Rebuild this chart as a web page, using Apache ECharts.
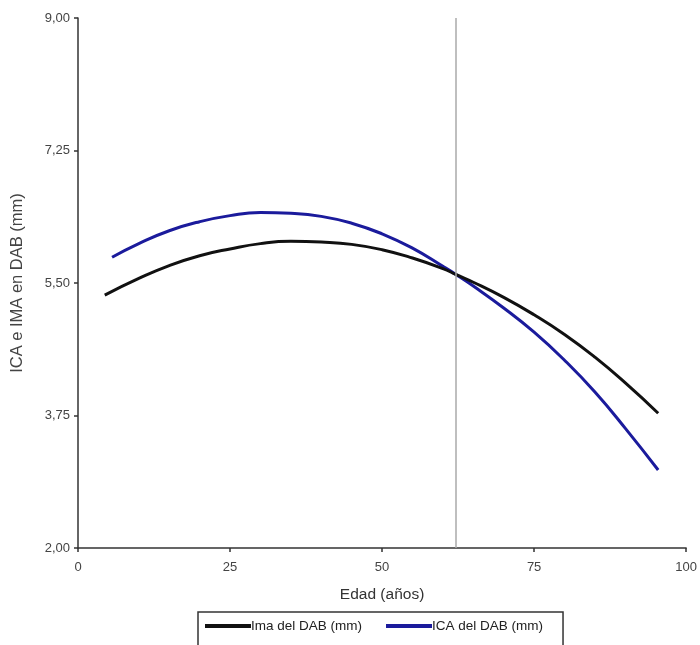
<!DOCTYPE html>
<html>
<head>
<meta charset="utf-8">
<script src="https://cdn.jsdelivr.net/npm/echarts@6/dist/echarts.min.js"></script>
<style>
  html, body { margin: 0; padding: 0; background: #fff; }
  #chart { width: 700px; height: 645px; }
</style>
</head>
<body>
<div id="chart"></div>
<script>
// edad (años)
const imaX = [4.4, 10, 15, 20, 25, 30, 35, 40, 45, 50, 55, 60, 62.2, 65, 70, 75, 80, 85, 90, 95.4];
const imaY = [5.34, 5.56, 5.73, 5.86, 5.95, 6.02, 6.05, 6.04, 6.01, 5.94, 5.83, 5.69, 5.61, 5.51, 5.31, 5.08, 4.82, 4.52, 4.18, 3.78];
const icaX = [5.6, 10, 15, 20, 25, 30, 35, 40, 45, 50, 55, 60, 62.2, 65, 70, 75, 80, 85, 90, 95.4];
const icaY = [5.84, 6.02, 6.19, 6.31, 6.39, 6.43, 6.42, 6.38, 6.29, 6.15, 5.96, 5.72, 5.61, 5.46, 5.17, 4.85, 4.48, 4.06, 3.58, 3.03];
const refLineX = 62.1;
const seriesNames = ['Ima del DAB (mm)', 'ICA del DAB (mm)'];

const pairs = (xs, ys) => xs.map((x, i) => [x, ys[i]]);

const myChart = echarts.init(document.getElementById('chart'));
myChart.setOption({
  animation: false,
  textStyle: { fontFamily: 'Liberation Sans, Arial, sans-serif' },
  grid: { left: 78, right: 10, top: 18, bottom: 97 },
  xAxis: {
    type: 'value',
    min: 0,
    max: 100,
    interval: 25,
    name: 'Edad (años)',
    nameLocation: 'middle',
    nameGap: 39,
    nameTextStyle: { fontSize: 15.5, color: '#333' },
    axisLine: { show: true, lineStyle: { color: '#333', width: 1.5 } },
    axisTick: { show: true, length: 4, lineStyle: { color: '#333', width: 1.5 } },
    axisLabel: { fontSize: 13, color: '#444', margin: 13 },
    splitLine: { show: false }
  },
  yAxis: {
    type: 'value',
    min: 2,
    max: 9,
    interval: 1.75,
    name: 'ICA e IMA en DAB (mm)',
    nameLocation: 'middle',
    nameGap: 52,
    nameTextStyle: { fontSize: 16.5, color: '#444' },
    axisLine: { show: true, lineStyle: { color: '#333', width: 1.5 } },
    axisTick: { show: true, length: 4, lineStyle: { color: '#333', width: 1.5 } },
    axisLabel: {
      fontSize: 13,
      color: '#444',
      margin: 8,
      formatter: v => v.toFixed(2).replace('.', ',')
    },
    splitLine: { show: false }
  },
  legend: {
    bottom: -12,
    left: 198,
    padding: [7, 20, 24, 7],
    borderColor: '#333',
    borderWidth: 1.5,
    itemGap: 24,
    itemWidth: 46,
    itemHeight: 4,
    icon: 'rect',
    textStyle: { fontSize: 13.5, color: '#222', padding: [0, 0, 0, -5] },
    data: seriesNames
  },
  series: [
    {
      name: seriesNames[0],
      type: 'line',
      data: pairs(imaX, imaY),
      smooth: true,
      showSymbol: false,
      color: '#111',
      lineStyle: { width: 3, color: '#111' },
      z: 3,
      markLine: {
        silent: true,
        symbol: 'none',
        label: { show: false },
        lineStyle: { color: '#aaa', width: 1.5, type: 'solid' },
        data: [{ xAxis: refLineX }]
      }
    },
    {
      name: seriesNames[1],
      type: 'line',
      data: pairs(icaX, icaY),
      smooth: true,
      showSymbol: false,
      color: '#1b1b9c',
      lineStyle: { width: 3, color: '#1b1b9c' },
      z: 2
    }
  ]
});
</script>
</body>
</html>
